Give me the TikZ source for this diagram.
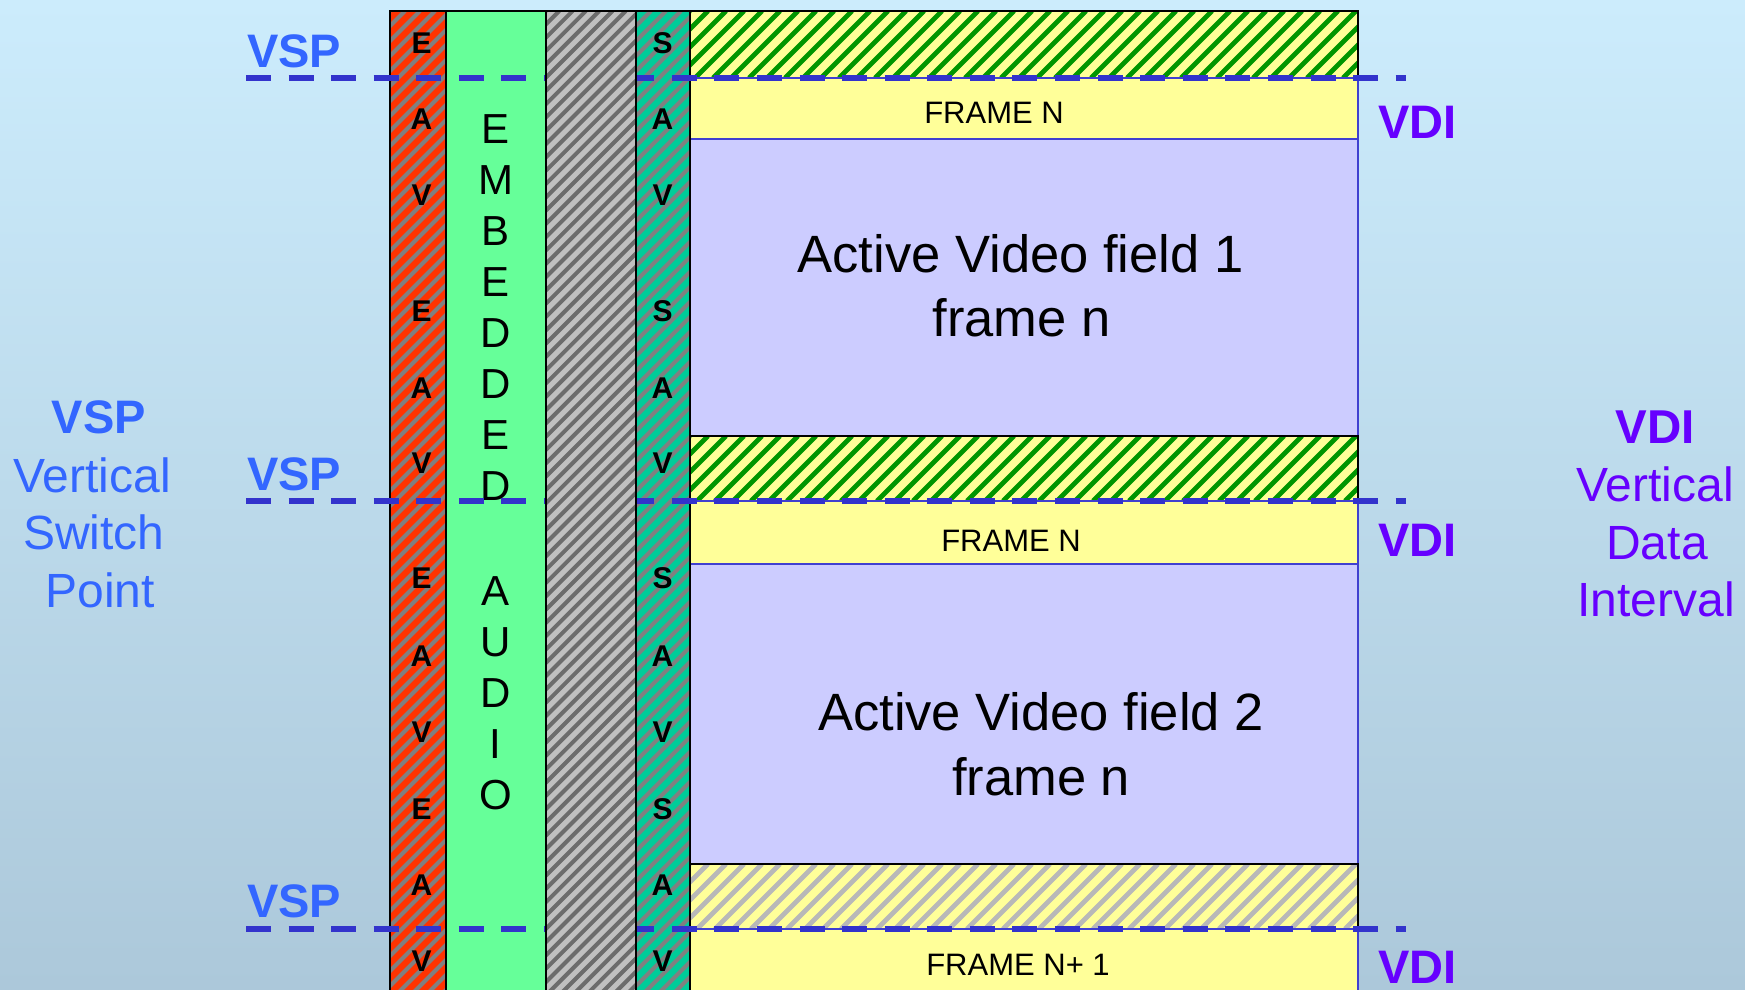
\documentclass[tikz,border=0pt]{standalone}
\usepackage{fontspec}
\setmainfont{Liberation Sans}

\definecolor{bgtop}{RGB}{204,236,252}
\definecolor{bgbot}{RGB}{172,200,218}
\definecolor{eavred}{RGB}{255,51,0}
\definecolor{audgreen}{RGB}{102,255,153}
\definecolor{savteal}{RGB}{0,204,153}
\definecolor{colgray}{RGB}{192,192,192}
\definecolor{stripegray}{RGB}{128,128,128}
\definecolor{darkstripe}{RGB}{108,108,108}
\definecolor{frameyellow}{RGB}{255,255,153}
\definecolor{stripegreen}{RGB}{0,150,0}
\definecolor{lightstripe}{RGB}{184,184,184}
\definecolor{activeblue}{RGB}{204,204,255}
\definecolor{edgeblue}{RGB}{64,64,208}
\definecolor{dashblue}{RGB}{51,51,204}
\definecolor{vspblue}{RGB}{51,102,255}
\definecolor{vdipurple}{RGB}{102,0,255}

% diagonal stripes inside a rectangle:
% #1,#2 = top-left corner, #3,#4 = bottom-right corner,
% #5 = horizontal period, #6 = stripe width, #7 = stripe colour
\newcommand\stripedrect[7]{%
  \begin{scope}
    \clip (#1,#2) rectangle (#3,#4);
    \pgfmathsetmacro\stripeh{#4-#2}
    \pgfmathsetmacro\stripea{#1-\stripeh}
    \pgfmathsetmacro\stripeb{#1-\stripeh+#5}
    \foreach \sx in {\stripea,\stripeb,...,#3}
      \draw[#7,line width=#6] (\sx,#4) -- ++(\stripeh,-\stripeh);
  \end{scope}}

\begin{document}
\begin{tikzpicture}[x=1pt,y=-1pt,
  colbox/.style={draw=black,line width=2pt},
  rowbox/.style={draw=edgeblue,line width=2pt},
  hatchbox/.style={draw=black,line width=2pt},
  switchline/.style={dashblue,line width=6.5pt,dash pattern=on 25pt off 17.58pt},
  vsptag/.style={text=vspblue,font=\bfseries\fontsize{47}{47}\selectfont,anchor=base west,inner sep=0pt},
  vditag/.style={text=vdipurple,font=\bfseries\fontsize{47}{47}\selectfont,anchor=base west,inner sep=0pt},
  sidetext/.style={font=\fontsize{48}{48}\selectfont,anchor=base,inner sep=0pt},
  colletter/.style={font=\bfseries\fontsize{30}{30}\selectfont,anchor=base,inner sep=0pt},
  embletter/.style={font=\fontsize{42}{42}\selectfont,anchor=base,inner sep=0pt},
  activetext/.style={font=\fontsize{52.5}{52.5}\selectfont,anchor=base,inner sep=0pt},
  frametext/.style={font=\fontsize{31}{31}\selectfont,anchor=base,inner sep=0pt}]

\useasboundingbox (0,0) rectangle (1745,989);
\clip (0,0) rectangle (1745,989);
\shade[top color=bgtop,bottom color=bgbot] (0,0) rectangle (1745,989);

% frame area on the right of the ancillary columns
\draw[edgeblue,line width=2pt] (690,11) rectangle (1358,1010);
\fill[frameyellow] (690,11) rectangle (1358,78);
\stripedrect{690}{11}{1358}{78}{18}{4.8pt}{stripegreen}
\draw[hatchbox] (690,11) rectangle (1358,78);
\draw[rowbox,fill=frameyellow] (690,78) rectangle (1358,139);
\draw[rowbox,fill=activeblue] (690,139) rectangle (1358,436);
\fill[frameyellow] (690,436) rectangle (1358,501);
\stripedrect{690}{436}{1358}{501}{18}{4.8pt}{stripegreen}
\draw[hatchbox] (690,436) rectangle (1358,501);
\draw[rowbox,fill=frameyellow] (690,501) rectangle (1358,564);
\draw[rowbox,fill=activeblue] (690,564) rectangle (1358,864);
\fill[frameyellow] (690,864) rectangle (1358,929);
\stripedrect{690}{864}{1358}{929}{18}{4.8pt}{lightstripe}
\draw[hatchbox] (690,864) rectangle (1358,929);
\draw[rowbox,fill=frameyellow] (690,929) rectangle (1358,1010);

% EAV, embedded audio and SAV columns
\fill[eavred] (390,11) rectangle (446,1010);
\stripedrect{390}{11}{446}{1010}{15}{4pt}{stripegray}
\draw[colbox] (390,11) rectangle (446,1010);
\draw[colbox,fill=audgreen] (446,11) rectangle (546,1010);
\fill[savteal] (636,11) rectangle (690,1010);
\stripedrect{636}{11}{690}{1010}{15}{4pt}{stripegray}
\draw[colbox] (636,11) rectangle (690,1010);

% column letters
\foreach \ch/\y [count=\i] in {E/53,A/129.5,V/205.5,E/321,A/398.5,V/473,E/588.5,A/666,V/742,E/819,A/895.5,V/971}
  \node[colletter] (eav\i) at (421.5,\y) {\ch};
\foreach \ch/\y [count=\i] in {S/53,A/129.5,V/205.5,S/321,A/398.5,V/473,S/588.5,A/666,V/742,S/819,A/895.5,V/971}
  \node[colletter] (sav\i) at (662.5,\y) {\ch};
\foreach \ch/\y [count=\i] in {E/143,M/194,B/245,E/296,D/347,D/398,E/449,D/500}
  \node[embletter] (emb\i) at (495.5,\y) {\ch};
\foreach \ch/\y [count=\i] in {A/605,U/656,D/707,I/758,O/809}
  \node[embletter] (aud\i) at (495.5,\y) {\ch};

% row texts
\node[frametext] (frame1) at (994,123.5) {FRAME N};
\node[frametext] (frame2) at (1011,551) {FRAME N};
\node[frametext] (frame3) at (1018,975) {FRAME N+ 1};
\node[activetext] (act1a) at (1020.5,272) {Active Video field 1};
\node[activetext] (act1b) at (1021.5,336) {frame n};
\node[activetext] (act2a) at (1041,730) {Active Video field 2};
\node[activetext] (act2b) at (1041,795) {frame n};

% vertical switch points
\coordinate (sw1a) at (246,78);   \coordinate (sw1b) at (1406,78);
\coordinate (sw2a) at (246,501);  \coordinate (sw2b) at (1406,501);
\coordinate (sw3a) at (246,929);  \coordinate (sw3b) at (1406,929);
\draw[switchline] (sw1a) -- (sw1b);
\draw[switchline] (sw2a) -- (sw2b);
\draw[switchline] (sw3a) -- (sw3b);

% gray column sits over the switch lines
\fill[colgray] (546,11) rectangle (636,1010);
\stripedrect{546}{11}{636}{1010}{13.3}{4pt}{darkstripe}
\draw[colbox] (546,11) rectangle (636,1010);

% tags next to the lines
\node[vsptag] (vsp1) at (247,67) {VSP};
\node[vsptag] (vsp2) at (247,490) {VSP};
\node[vsptag] (vsp3) at (247,917) {VSP};
\node[vditag] (vdi1) at (1378,138) {VDI};
\node[vditag] (vdi2) at (1378,556) {VDI};
\node[vditag] (vdi3) at (1378,983) {VDI};

% legends
\node[sidetext,text=vspblue,font=\bfseries\fontsize{47}{47}\selectfont] (lvsp) at (99,433) {VSP};
\node[sidetext,text=vspblue] (lvert) at (92.3,492) {Vertical};
\node[sidetext,text=vspblue] (lswitch) at (94,549) {Switch};
\node[sidetext,text=vspblue] (lpoint) at (100,607) {Point};
\node[sidetext,text=vdipurple,font=\bfseries\fontsize{47.5}{47.5}\selectfont] (rvdi) at (1655,443) {VDI};
\node[sidetext,text=vdipurple] (rvert) at (1655,501) {Vertical};
\node[sidetext,text=vdipurple] (rdata) at (1657,559) {Data};
\node[sidetext,text=vdipurple] (rint) at (1656,616) {Interval};
\end{tikzpicture}
\end{document}
